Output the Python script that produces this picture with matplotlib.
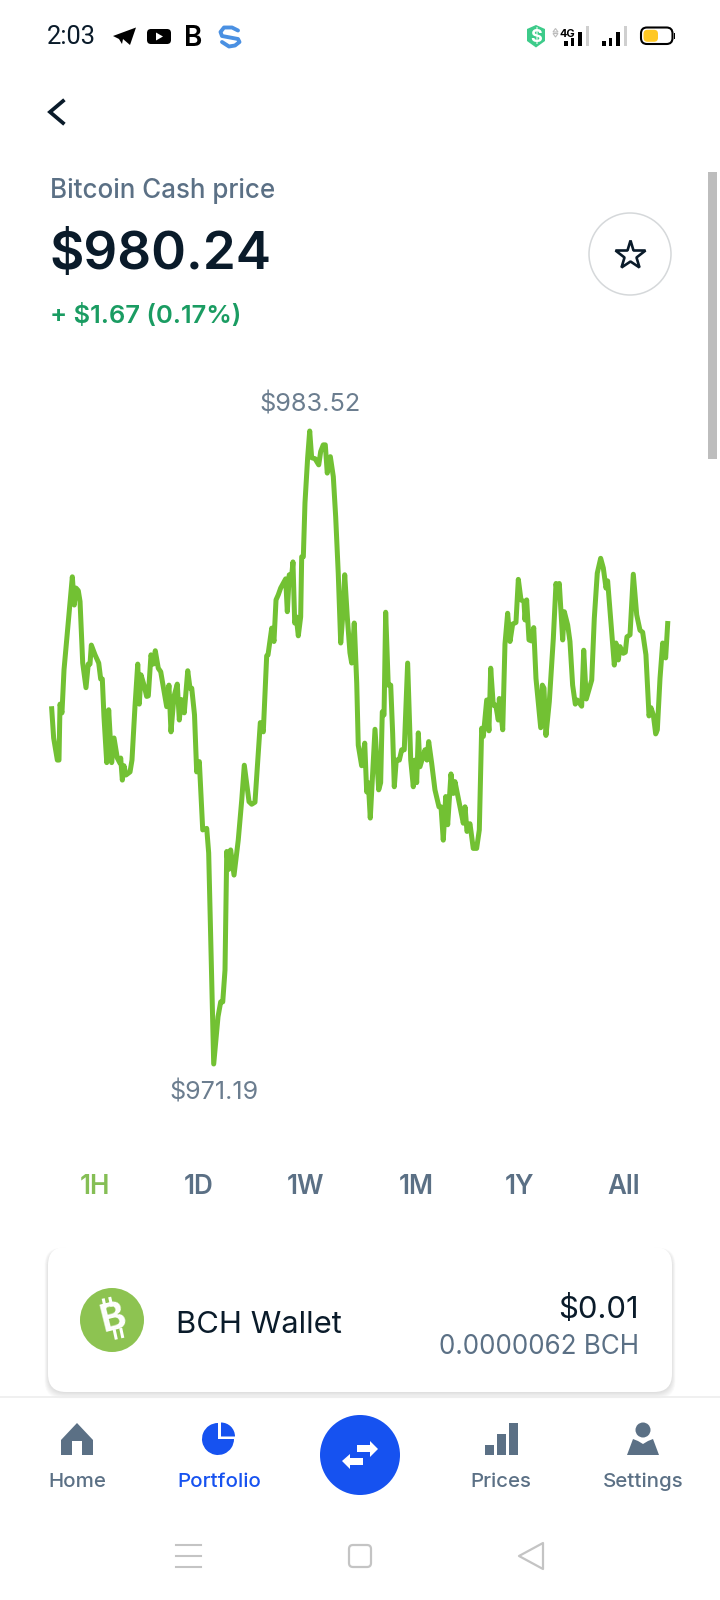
#!/usr/bin/env python
# coding: utf-8
"""Bitcoin Cash 1H price screen, phone screenshot layout"""
import matplotlib
matplotlib.use("Agg")
import matplotlib.pyplot as plt
from matplotlib.patches import Circle, FancyBboxPatch, Polygon, Rectangle, Wedge

plt.rcParams['font.family'] = ['Inter', 'DejaVu Sans']

#%% data
minutes = [0, .19, .55, .71, .81, 1.00, 1.20, 1.46, 1.78, 2.01, 2.20, 2.37, 2.59, 2.76, 3.02, 3.34, 3.56, 3.73, 3.86, 4.22,
           4.58, 4.77, 4.93, 5.09, 5.36, 5.55, 5.84, 6.07, 6.39, 6.65, 6.72, 6.88, 7.04, 7.24, 7.63, 7.82, 8.11, 8.38, 8.53, 8.70,
           8.99, 9.25, 9.41, 9.67, 9.90, 10.09, 10.38, 10.62, 11.20, 11.42, 11.62, 11.91, 12.23, 12.43, 12.62, 12.91, 13.25, 13.47, 13.64, 13.91,
           14.12, 14.38, 14.71, 15.10, 15.29, 15.49, 15.78, 16.20, 16.46, 16.66, 16.88, 17.05, 17.24, 17.43, 17.76, 18.17, 18.51, 18.76, 19.22, 19.48,
           19.80, 20.32, 20.61, 20.94, 21.07, 21.43, 21.65, 21.85, 22.07, 22.30, 22.79, 22.95, 23.14, 23.31, 23.50, 23.67, 23.82, 24.02, 24.25, 24.35,
           24.51, 24.67, 24.93, 25.13, 25.32, 25.65, 26.01, 26.20, 26.45, 26.65, 26.84, 27.14, 27.43, 27.66, 27.91, 28.15, 28.34, 28.54, 28.79, 29.05,
           29.22, 29.47, 29.71, 29.86, 30.19, 30.49, 30.68, 30.84, 31.03, 31.49, 31.85, 32.04, 32.20, 32.37, 32.53, 32.78, 33.02, 33.21, 33.37, 33.56,
           33.86, 34.09, 34.34, 34.67, 34.97, 35.22, 35.38, 35.55, 35.71, 35.87, 36.36, 36.55, 36.72, 37.01, 37.33, 37.72, 37.92, 38.14, 38.38, 38.57,
           38.89, 39.12, 39.28, 39.77, 40.09, 40.26, 40.45, 40.74, 41.06, 41.39, 41.65, 41.88, 42.04, 42.37, 42.59, 42.76, 43.01, 43.25, 43.50, 43.60,
           43.93, 44.15, 44.41, 44.64, 44.90, 45.22, 45.45, 45.71, 46.00, 46.10, 46.26, 46.49, 46.75, 46.95, 47.17, 47.63, 47.79, 47.95, 48.14, 48.47,
           48.86, 49.12, 49.25, 49.44, 49.77, 49.93, 50.26, 50.48, 50.74, 51.00, 51.19, 51.62, 51.82, 52.07, 52.60, 52.85, 53.14, 53.47, 53.73, 53.99,
           54.15, 54.45, 54.80, 54.96, 55.19, 55.35, 55.67, 55.87, 56.03, 56.33, 56.65, 56.98, 57.30, 57.56, 57.88, 58.18, 58.37, 58.60, 58.83, 58.99,
           59.25, 59.51, 59.80, 60.00]
prices = [978.11, 977.54, 977.11, 977.11, 978.20, 978.03, 978.87, 979.45, 980.17, 980.68, 980.13, 980.46, 980.41, 980.20, 979.00, 978.52, 978.98, 978.98, 979.35, 979.16,
          979.00, 978.69, 978.69, 977.96, 977.06, 978.09, 977.06, 977.54, 977.15, 977.05, 977.15, 976.72, 977.00, 976.82, 976.88, 977.11, 978.15, 978.98, 978.20, 978.77,
          978.57, 978.35, 978.36, 979.16, 978.98, 979.24, 978.90, 978.83, 978.15, 978.57, 977.66, 978.35, 978.59, 977.89, 978.29, 978.03, 978.85, 978.51, 978.51, 977.99,
          976.88, 977.08, 975.75, 975.78, 975.30, 973.61, 971.19, 972.11, 972.40, 972.40, 973.02, 975.33, 974.98, 975.36, 974.87, 975.55, 976.33, 977.01, 976.30, 976.25,
          976.29, 977.84, 977.66, 979.14, 979.16, 979.68, 979.42, 980.23, 980.33, 980.46, 980.64, 980.00, 980.72, 980.56, 980.97, 979.78, 979.90, 979.53, 979.90, 981.07,
          981.07, 982.12, 983.00, 983.52, 983.00, 982.98, 982.86, 983.12, 983.25, 983.25, 982.70, 983.02, 982.63, 981.85, 980.75, 979.39, 979.90, 980.72, 979.90, 979.20,
          979.00, 979.78, 978.61, 977.40, 977.00, 977.44, 976.49, 976.67, 975.98, 977.71, 976.53, 976.67, 978.05, 977.99, 979.99, 978.57, 978.57, 977.63, 976.59, 977.11,
          977.11, 977.31, 977.31, 979.00, 977.11, 976.59, 977.11, 976.67, 977.64, 976.98, 977.31, 977.11, 977.47, 977.05, 976.53, 976.20, 976.20, 975.55, 976.40, 975.85,
          976.84, 976.46, 976.69, 976.20, 975.88, 976.20, 975.72, 975.87, 975.39, 975.39, 975.75, 977.73, 977.57, 978.28, 977.68, 978.90, 978.18, 978.18, 977.89, 978.31,
          977.70, 979.37, 979.97, 979.42, 979.76, 979.79, 980.63, 980.23, 980.20, 979.84, 980.23, 979.45, 979.43, 979.69, 978.70, 977.74, 978.57, 978.51, 977.59, 978.25,
          979.48, 980.55, 980.36, 980.55, 979.45, 980.00, 979.74, 979.42, 978.57, 978.20, 978.28, 978.16, 979.25, 978.30, 978.67, 979.87, 980.75, 981.04, 980.85, 980.46,
          980.60, 979.84, 978.96, 979.39, 979.06, 979.32, 979.19, 979.21, 979.51, 979.55, 980.73, 979.94, 979.64, 979.60, 979.16, 977.97, 978.13, 977.99, 977.62, 977.70,
          978.70, 979.39, 979.10, 979.77]
ranges = ['1H', '1D', '1W', '1M', '1Y', 'All']
nav_labels = ['Home', 'Portfolio', 'Prices', 'Settings']

DARK = '#0A1B2A'
SLATE = '#5B7085'
BLUE = '#1652F0'
GREEN = '#72C133'
PX = 0.72   # font px -> pt at dpi 100

fig = plt.figure(figsize=(7.2, 16), dpi=100, facecolor='white')

# whole screen in pixel coords for the app chrome
ui = fig.add_axes([0, 0, 1, 1])
ui.set_xlim(0, 720)
ui.set_ylim(1600, 0)
ui.axis('off')


def label(x, y, s, px, color=DARK, weight='normal', ha='left', **kw):
    ui.text(x, y, s, fontsize=px * PX, color=color, fontweight=weight, ha=ha, va='baseline', **kw)


def rbox(x0, y0, x1, y1, r, **kw):
    p = FancyBboxPatch((x0 + r, y0 + r), x1 - x0 - 2 * r, y1 - y0 - 2 * r,
                       boxstyle='round,pad=%g,rounding_size=%g' % (r, r), **kw)
    ui.add_patch(p)


#%% status bar
label(46.5, 44, '2:03', 25.5, family='Roboto')
ui.add_patch(Polygon([(113, 36), (136, 27.5), (130, 45), (123, 39), (122, 44), (119, 39)], color='black', lw=0))
rbox(147, 29, 171, 44, 4, fc='black', ec='none')
ui.add_patch(Polygon([(156, 32.5), (156, 40.5), (163, 36.5)], color='white', lw=0))
label(184.5, 45.5, 'B', 28, color='black', weight='semibold')
ui.add_patch(Rectangle((192, 35), 6, 1.8, color='white', lw=0))
ui.plot([238, 232, 224, 220.5, 222, 238, 239.5, 235, 229, 222],
        [30.5, 27.5, 27.5, 32, 36, 39, 42, 45.5, 46.5, 42], color='#4A90E2', lw=2.8, solid_capstyle='round')
ui.add_patch(Polygon([(527, 29), (536, 25), (545, 29), (545, 41), (536, 47.5), (527, 41)], color='#3DCB8A', lw=0))
label(536, 42, '$', 18, color='white', weight='bold', ha='center')
ui.add_patch(Polygon([(553, 32), (555.5, 28.5), (558, 32)], fc='none', ec='#BBBBBB', lw=0.8))
ui.add_patch(Polygon([(553, 33.5), (555.5, 37), (558, 33.5)], fc='none', ec='#BBBBBB', lw=0.8))
label(560, 37, '4G', 11, color='black', weight='bold')
for off in (0, 38):
    for x0, x1, top, c in [(564.3, 567.5, 41, 'black'), (570.7, 574, 37.7, 'black'), (577.5, 581.5, 32.3, 'black'),
                           (586, 589.3, 26, '#CFCFCF')]:
        ui.add_patch(Rectangle((x0 + off, top), x1 - x0, 45.7 - top, color=c, lw=0))
rbox(641, 27.5, 672.5, 44, 6, fc='white', ec='black', lw=1.5)
rbox(643.5, 29.8, 658, 41.8, 4, fc='#FFC824', ec='none')
ui.add_patch(Rectangle((673.5, 32.5), 1.6, 6.5, color='black', lw=0))

#%% header
ui.plot([63, 50, 63], [101, 112, 123], color=DARK, lw=2.7, solid_joinstyle='miter')
label(50.5, 198, 'Bitcoin Cash price', 26, color=SLATE, weight='medium')
label(49, 269, '$980.24', 53, weight='semibold')
label(49.5, 323, '+ $1.67 (0.17%)', 25.5, color='#1A9C62', weight='semibold')
ui.add_patch(Circle((630, 254), 41, fc='white', ec='#D5D8DA', lw=1.1))
ui.plot([630], [255], marker='*', ms=22, mfc='white', mec=DARK, mew=1.9)
ui.add_patch(Rectangle((708, 172), 9, 287, color='#BDBDBD', lw=0))

#%% time range tabs
for name, x in zip(ranges, [95, 199, 306, 416, 520, 624]):
    label(x, 1193.5, name, 26, color='#85BE55' if name == '1H' else SLATE, weight='semibold', ha='center')

#%% wallet card
for i in range(8):
    rbox(48 - i * .5, 1249 - i * .2, 672 + i * .5, 1393 + i * .8, 18, fc='black', ec='none', alpha=0.016)
rbox(48, 1247, 672, 1392, 18, fc='white', ec='none')
ui.add_patch(Circle((112, 1320), 32, color='#8DC351', lw=0))
ui.text(113, 1319, 'B', fontsize=38 * PX, color='white', fontweight='bold', ha='center', va='center', rotation=14)
for x0, y0, x1, y1 in [(103.5, 1300, 105, 1307), (110, 1298.5, 111.5, 1305), (114.5, 1331, 116, 1338), (121, 1329.5, 122.5, 1336.5)]:
    ui.plot([x0, x1], [y0, y1], color='white', lw=2.2)
label(176.5, 1333, 'BCH Wallet', 31)
label(639, 1318, '$0.01', 31, ha='right')
label(639, 1354, '0.0000062 BCH', 26, color=SLATE, ha='right')

#%% bottom nav
ui.plot([0, 720], [1396.5, 1396.5], color='#EDEDED', lw=1.2)
for name, x in zip(nav_labels, [77, 219, 500.5, 643]):
    label(x, 1487, name, 20.5, color=BLUE if name == 'Portfolio' else SLATE, weight='medium', ha='center')
ui.add_patch(Polygon([(61, 1440), (77, 1423), (93, 1440), (93, 1455), (82, 1455), (82, 1441), (72, 1441), (72, 1455),
                      (61, 1455)], color=SLATE, lw=0))
ui.add_patch(Wedge((218, 1439), 16, 0, 270, color=BLUE, lw=0))
ui.add_patch(Wedge((221, 1436.5), 14, 270, 360, color=BLUE, lw=0))
ui.add_patch(Circle((360, 1455), 40, color=BLUE, lw=0))
ui.add_patch(Polygon([(357, 1445), (370, 1445), (370, 1441), (378, 1449), (370, 1457), (370, 1452), (357, 1452)], color='white', lw=0))
ui.add_patch(Polygon([(363, 1458), (350, 1458), (350, 1454), (342, 1461), (350, 1469), (350, 1465), (363, 1465)], color='white', lw=0))
for x0, top in [(485, 1445), (497, 1434), (509, 1423)]:
    ui.add_patch(Rectangle((x0, top), 8.5, 1455 - top, color=SLATE, lw=0))
ui.add_patch(Circle((643, 1430), 7.5, color=SLATE, lw=0))
ui.add_patch(Polygon([(633, 1439), (638, 1441), (643, 1444), (648, 1441), (653, 1439), (659, 1455), (627, 1455)], color=SLATE, lw=0))

# android buttons
for y in (1545, 1556, 1567):
    ui.plot([176, 200.5], [y, y], color='#C4C4C4', lw=1.5)
rbox(349, 1545, 371, 1567, 4, fc='none', ec='#C4C4C4', lw=1.6)
ui.add_patch(Polygon([(543, 1543), (519, 1556), (543, 1569)], fc='none', ec='#C4C4C4', lw=1.6, joinstyle='round'))

#%% price chart
ax = fig.add_axes([51.7 / 720, (1600 - 1064) / 1600, 616 / 720, 633 / 1600])
ax.patch.set_alpha(0)
ax.set_xlim(0, 60)
ax.set_ylim(971.19, 983.52)
ax.axis('off')
ax.plot(minutes, prices, color=GREEN, lw=3.6, solid_joinstyle='round', clip_on=False)

hi = max(prices)
lo = min(prices)
ax.annotate('$%.2f' % hi, (minutes[prices.index(hi)], hi), xytext=(0, 14), textcoords='offset points',
            ha='center', va='baseline', fontsize=25.3 * PX, color='#6B7D8F')
ax.annotate('$%.2f' % lo, (minutes[prices.index(lo)], lo), xytext=(0, -25.5), textcoords='offset points',
            ha='center', va='baseline', fontsize=25 * PX, color='#6B7D8F')

plt.savefig('out.png', dpi=100)
